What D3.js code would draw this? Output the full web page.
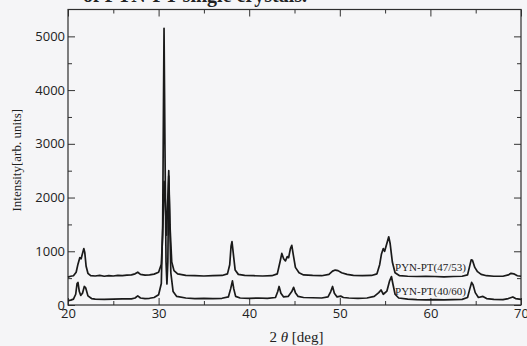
<!DOCTYPE html>
<html>
<head>
<meta charset="utf-8">
<script src="https://cdn.jsdelivr.net/npm/d3@7"></script>
<style>
  html, body { margin: 0; padding: 0; background: #f5f5f7; }
  svg { display: block; }
</style>
</head>
<body>
<script>
// 2theta [deg], intensity [arb. units]
const series4753 = [
  [20.0, 520], [20.3, 535], [20.6, 545], [20.9, 610], [21.1, 760], [21.3, 880], [21.45, 860],
  [21.6, 960], [21.75, 1050], [21.85, 980], [22.0, 720], [22.2, 590], [22.5, 545], [23.0, 540],
  [23.5, 550], [24.0, 535], [24.5, 545], [25.0, 540], [25.5, 550], [26.0, 545], [26.5, 555],
  [27.0, 560], [27.4, 580], [27.7, 610], [28.0, 570], [28.5, 555], [29.0, 560], [29.5, 575],
  [30.0, 610], [30.3, 760], [30.45, 1300], [30.6, 2300], [30.72, 2000], [30.88, 1300],
  [31.0, 1900], [31.12, 2500], [31.25, 1500], [31.45, 800], [31.7, 640], [32.1, 580],
  [33.0, 550], [34.0, 545], [35.0, 540], [36.0, 545], [37.0, 550], [37.6, 580], [37.85, 750],
  [38.0, 1100], [38.1, 1180], [38.25, 950], [38.45, 650], [38.8, 570], [39.5, 550], [40.5, 545],
  [41.5, 540], [42.5, 545], [43.1, 580], [43.4, 800], [43.6, 960], [43.8, 860], [44.0, 820],
  [44.2, 900], [44.35, 880], [44.55, 1050], [44.7, 1110], [44.85, 950], [45.1, 700], [45.5, 600],
  [46.0, 560], [47.0, 550], [48.0, 545], [48.8, 570], [49.2, 630], [49.5, 650], [49.8, 640],
  [50.2, 600], [50.8, 570], [51.5, 550], [52.5, 545], [53.5, 550], [54.1, 580], [54.4, 750],
  [54.6, 950], [54.8, 1050], [54.95, 1000], [55.2, 1150], [55.4, 1270], [55.55, 1150],
  [55.8, 800], [56.1, 600], [56.6, 545], [57.5, 535], [58.5, 530], [59.5, 535], [60.5, 530],
  [61.5, 525], [62.5, 530], [63.5, 535], [64.1, 560], [64.3, 700], [64.5, 840], [64.65, 830],
  [64.9, 700], [65.2, 620], [65.6, 570], [66.2, 545], [67.0, 535], [68.0, 535], [68.6, 560],
  [68.9, 590], [69.2, 580], [69.6, 545], [70.0, 535]
];

const series4060 = [
  [20.0, 80], [20.3, 90], [20.6, 110], [20.85, 200], [21.0, 400], [21.1, 420], [21.25, 250],
  [21.4, 180], [21.6, 220], [21.8, 345], [21.95, 320], [22.2, 170], [22.6, 120], [23.0, 110],
  [24.0, 105], [25.0, 110], [26.0, 115], [27.0, 115], [27.4, 130], [27.7, 170], [28.0, 130],
  [28.5, 120], [29.0, 125], [29.5, 140], [30.0, 190], [30.3, 400], [30.45, 1500], [30.55, 4000],
  [30.6, 5150], [30.7, 3000], [30.82, 800], [30.92, 390], [31.02, 800], [31.12, 2400],
  [31.2, 1800], [31.35, 600], [31.6, 250], [32.0, 160], [33.0, 130], [34.0, 120], [35.0, 125],
  [36.0, 120], [37.0, 125], [37.7, 150], [37.95, 300], [38.15, 450], [38.3, 300], [38.5, 160],
  [39.0, 130], [40.0, 125], [41.0, 130], [42.0, 125], [42.9, 140], [43.15, 250], [43.3, 345],
  [43.5, 220], [43.8, 150], [44.3, 160], [44.7, 250], [44.9, 330], [45.1, 230], [45.4, 160],
  [46.0, 140], [47.0, 135], [48.0, 130], [48.7, 150], [49.0, 250], [49.2, 345], [49.4, 220],
  [49.7, 150], [50.1, 165], [50.4, 140], [51.0, 130], [52.0, 125], [53.0, 130], [53.8, 160],
  [54.3, 230], [54.55, 280], [54.8, 200], [55.2, 260], [55.5, 450], [55.7, 530], [55.85, 400],
  [56.1, 200], [56.5, 130], [57.5, 110], [58.5, 100], [59.5, 95], [60.5, 100], [61.5, 95],
  [62.5, 100], [63.5, 105], [64.1, 140], [64.35, 300], [64.55, 420], [64.7, 380], [64.95, 230],
  [65.3, 140], [65.8, 160], [66.2, 120], [67.0, 105], [68.0, 100], [68.6, 120], [69.1, 150],
  [69.4, 120], [70.0, 105]
];

const seriesNames = ['PYN-PT(47/53)', 'PYN-PT(40/60)'];
const xTicksMajor = [20, 30, 40, 50, 60, 70];
const xTicksMinor = [25, 35, 45, 55, 65];
const yTicksMajor = [0, 1000, 2000, 3000, 4000, 5000];
const yTicksMinor = [500, 1500, 2500, 3500, 4500];

const W = 527, H = 346;
const margin = { top: 9.5, right: 6, bottom: 41, left: 68 };

const svg = d3.select('body').append('svg')
  .attr('width', W)
  .attr('height', H);

const x = d3.scaleLinear().domain([20, 70]).range([margin.left, W - margin.right]);
const y = d3.scaleLinear().domain([0, 5500]).range([H - margin.bottom, margin.top]);

const tickFont = '"Open Sans", sans-serif';
const serif = '"Liberation Serif", "Times New Roman", serif';

// title line cut off at the top of the scan
svg.append('text')
  .attr('x', 83).attr('y', 2)
  .attr('font-family', serif).attr('font-weight', 'bold').attr('font-size', 20)
  .attr('fill', '#222')
  .text('of PYN-PT single crystals.');

// axes (ticks point inward, mirrored on top/right)
function styleAxis(g) {
  g.select('.domain').remove();
  g.selectAll('line').attr('stroke', '#333');
  g.selectAll('text').attr('font-family', tickFont).attr('font-size', 13).attr('fill', '#222');
}

svg.append('g')
  .attr('transform', `translate(0,${y(0)})`)
  .call(d3.axisBottom(x).tickValues(xTicksMajor).tickSize(-7).tickPadding(4).tickFormat(d3.format('d')))
  .call(styleAxis);
svg.append('g')
  .attr('transform', `translate(0,${y(0)})`)
  .call(d3.axisBottom(x).tickValues(xTicksMinor).tickSize(-4).tickFormat(''))
  .call(styleAxis);
svg.append('g')
  .attr('transform', `translate(0,${margin.top})`)
  .call(d3.axisTop(x).tickValues(xTicksMajor).tickSize(-7).tickFormat(''))
  .call(styleAxis);
svg.append('g')
  .attr('transform', `translate(0,${margin.top})`)
  .call(d3.axisTop(x).tickValues(xTicksMinor).tickSize(-4).tickFormat(''))
  .call(styleAxis);

svg.append('g')
  .attr('transform', `translate(${margin.left},0)`)
  .call(d3.axisLeft(y).tickValues(yTicksMajor).tickSize(-7).tickPadding(3).tickFormat(d3.format('d')))
  .call(styleAxis);
svg.append('g')
  .attr('transform', `translate(${margin.left},0)`)
  .call(d3.axisLeft(y).tickValues(yTicksMinor).tickSize(-4).tickFormat(''))
  .call(styleAxis);
svg.append('g')
  .attr('transform', `translate(${W - margin.right},0)`)
  .call(d3.axisRight(y).tickValues(yTicksMajor).tickSize(-7).tickFormat(''))
  .call(styleAxis);
svg.append('g')
  .attr('transform', `translate(${W - margin.right},0)`)
  .call(d3.axisRight(y).tickValues(yTicksMinor).tickSize(-4).tickFormat(''))
  .call(styleAxis);

// plot frame
svg.append('rect')
  .attr('x', x(20)).attr('y', y(5500))
  .attr('width', x(70) - x(20)).attr('height', y(0) - y(5500))
  .attr('fill', 'none').attr('stroke', '#2e2e2e').attr('stroke-width', 1.2);

// diffraction patterns
const line = d3.line().x(d => x(d[0])).y(d => y(d[1]));
[series4753, series4060].forEach(s => {
  svg.append('path')
    .datum(s)
    .attr('fill', 'none')
    .attr('stroke', '#1a1a1a')
    .attr('stroke-width', 1.7)
    .attr('stroke-linejoin', 'round')
    .attr('d', line);
});

// series labels
svg.append('text')
  .attr('x', x(56.1)).attr('y', y(640))
  .attr('font-family', serif).attr('font-size', 11).attr('fill', '#222')
  .text(seriesNames[0]);
svg.append('text')
  .attr('x', x(56.1)).attr('y', y(180))
  .attr('font-family', serif).attr('font-size', 11).attr('fill', '#222')
  .text(seriesNames[1]);

// axis titles
const xTitle = svg.append('text')
  .attr('x', (x(20) + x(70)) / 2 + 2).attr('y', 342)
  .attr('text-anchor', 'middle')
  .attr('font-family', serif).attr('font-size', 15).attr('fill', '#222');
xTitle.append('tspan').text('2 ');
xTitle.append('tspan').attr('font-style', 'italic').text('θ');
xTitle.append('tspan').text(' [deg]');

svg.append('text')
  .attr('transform', `translate(21,${(y(0) + y(5500)) / 2 + 3}) rotate(-90)`)
  .attr('text-anchor', 'middle')
  .attr('font-family', serif).attr('font-size', 13).attr('fill', '#222')
  .text('Intensity[arb. units]');
</script>
</body>
</html>
